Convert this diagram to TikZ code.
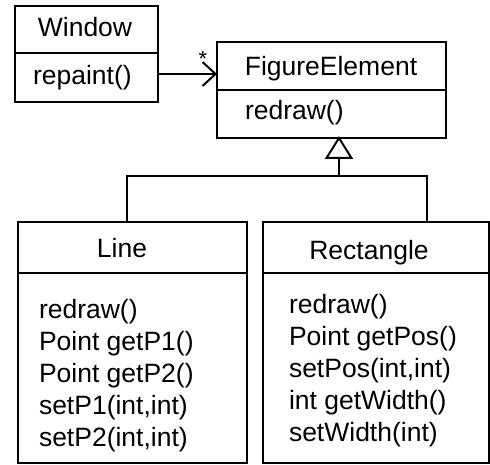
\documentclass[tikz,border=0pt]{standalone}
\usepackage{fontspec}
\setmainfont{Liberation Sans}
\usetikzlibrary{arrows.meta}
\tikzset{
  comp/.style={draw, line width=2pt, inner sep=0pt, outer sep=0pt, anchor=north west},
  lbl/.style={inner sep=0pt, outer sep=0pt, font=\fontsize{26.5}{32}\selectfont},
  conn/.style={line width=2pt},
  assoc/.style={conn, -{Straight Barb[length=13pt,width=24pt,line width=2pt]}},
  tri/.style={line width=2pt, fill=white, line join=miter}
}
\begin{document}
\begin{tikzpicture}[x=1pt,y=-1pt]
\useasboundingbox (0,0) rectangle (490,465);
% Window
\node[comp, minimum width=143pt, minimum height=47pt] (wtitle) at (15,6) {};
\node[comp, minimum width=143pt, minimum height=49pt] (wbody) at (15,53) {};
\node[lbl, anchor=base] (wname) at (85,37) {Window};
\node[lbl, anchor=base west] (wm1) at (33,85) {repaint()};
% FigureElement
\node[comp, minimum width=229pt, minimum height=48pt] (fetitle) at (217,42) {};
\node[comp, minimum width=229pt, minimum height=48pt] (febody) at (217,90) {};
\node[lbl, anchor=base] (fename) at (331,76) {FigureElement};
\node[lbl, anchor=base west] (fem1) at (245,120) {redraw()};
% Line
\node[comp, minimum width=229pt, minimum height=51pt] (ltitle) at (18,222) {};
\node[comp, minimum width=229pt, minimum height=190pt] (lbody) at (18,273) {};
\node[lbl, anchor=base] (lname) at (122,258) {Line};
\node[lbl, anchor=base west] (lm1) at (39,318) {redraw()};
\node[lbl, anchor=base west] (lm2) at (39,350) {Point getP1()};
\node[lbl, anchor=base west] (lm3) at (39,382) {Point getP2()};
\node[lbl, anchor=base west] (lm4) at (39,414) {setP1(int,int)};
\node[lbl, anchor=base west] (lm5) at (39,446) {setP2(int,int)};
% Rectangle
\node[comp, minimum width=226pt, minimum height=190pt] (rbody) at (263,273) {};
\node[comp, minimum width=226pt, minimum height=51pt] (rtitle) at (263,222) {};
\node[lbl, anchor=base] (rname) at (369,259) {Rectangle};
\node[lbl, anchor=base west] (rm1) at (289,313) {redraw()};
\node[lbl, anchor=base west] (rm2) at (289,345) {Point getPos()};
\node[lbl, anchor=base west] (rm3) at (289,377) {setPos(int,int)};
\node[lbl, anchor=base west] (rm4) at (289,409) {int getWidth()};
\node[lbl, anchor=base west] (rm5) at (289,441) {setWidth(int)};
% association
\draw[assoc] ([yshift=3.5pt]wbody.east) -- ([yshift=3.5pt]wbody.east -| fetitle.west);
\node[inner sep=0pt, font=\fontsize{22}{24}\selectfont, anchor=base] (star) at (203,67) {*};
% inheritance
\coordinate (j) at (339,176);
\coordinate (tb) at (339,158);
\coordinate (lj) at (127,222);
\coordinate (rj) at (427,222);
\draw[conn] (j) -- (tb);
\draw[tri] (febody.south -| j) -- ([xshift=-12.5pt]tb) -- ([xshift=12.5pt]tb) -- cycle;
\draw[conn] (lj) |- (j) -| (rj);
\end{tikzpicture}
\end{document}
